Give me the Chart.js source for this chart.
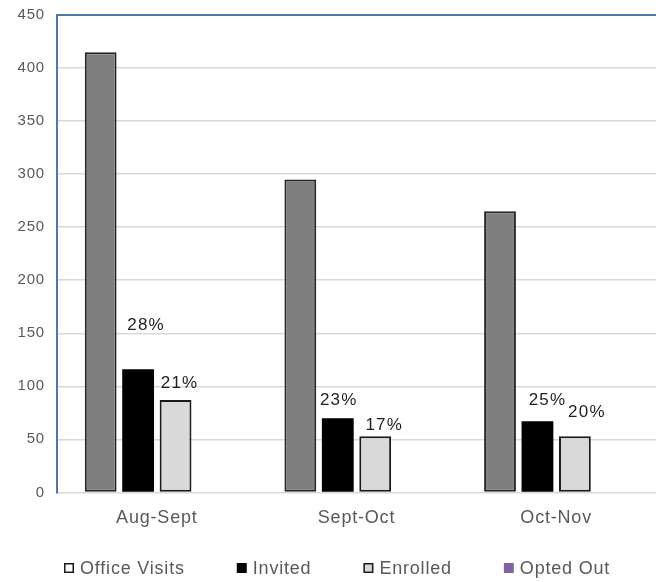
<!DOCTYPE html>
<html>
<head>
<meta charset="utf-8">
<script src="https://cdn.jsdelivr.net/npm/chart.js@4/dist/chart.umd.min.js"></script>
<style>
  html, body { margin: 0; padding: 0; background: #ffffff; overflow: hidden; }
  #wrap { width: 656px; height: 582px; }
</style>
</head>
<body>
<div id="wrap"><canvas id="c" width="656" height="582"></canvas></div>
<script>
// Monthly enrolment funnel
const categories = ['Aug-Sept', 'Sept-Oct', 'Oct-Nov'];
const officeVisits = [415, 295, 265];
const invited = [116, 70, 67];
const enrolled = [87, 53, 53];
const optedOut = [null, null, null];
const invitedPct = ['28%', '23%', '25%'];
const enrolledPct = ['21%', '17%', '20%'];
const yMin = 0, yMax = 450, yStep = 50;

// Where each percentage sits relative to the top centre of its bar (px)
const invitedLabelShift = [[8, 44], [1, 18], [10, 21]];
const enrolledLabelShift = [[4, 17], [9, 11], [12, 24]];

const FONT = '"Liberation Sans", Arial, Helvetica, sans-serif';
const TEXT_GREY = '#595959';
const FRAME_BLUE = '#4f77aa';

Chart.defaults.font.family = FONT;
Chart.defaults.color = TEXT_GREY;

function spacing(chart, px) {
  chart.ctx.letterSpacing = px + 'px';
}

// Slightly widened lettering for all chart text
const letterSpacingPlugin = {
  id: 'letterSpacing',
  beforeLayout(chart) { spacing(chart, 0.8); },
  beforeDraw(chart) { spacing(chart, 0.8); }
};

// Percentage labels above the Invited and Enrolled bars
const pctLabelsPlugin = {
  id: 'pctLabels',
  afterDatasetsDraw(chart) {
    const ctx = chart.ctx;
    ctx.save();
    ctx.letterSpacing = '1.2px';
    ctx.font = '17px ' + FONT;
    ctx.fillStyle = '#1f1f1f';
    ctx.textAlign = 'center';
    ctx.textBaseline = 'middle';
    const sets = [[1, invitedPct, invitedLabelShift], [2, enrolledPct, enrolledLabelShift]];
    sets.forEach(([dsIndex, texts, shifts]) => {
      chart.getDatasetMeta(dsIndex).data.forEach((bar, i) => {
        ctx.fillText(texts[i], bar.x + shifts[i][0], bar.y - shifts[i][1]);
      });
    });
    ctx.restore();
  }
};

// Legend row along the bottom edge
const legendRowPlugin = {
  id: 'legendRow',
  afterDraw(chart) {
    const ctx = chart.ctx;
    ctx.save();
    ctx.letterSpacing = '0.8px';
    ctx.font = '18px ' + FONT;
    ctx.textBaseline = 'middle';
    ctx.textAlign = 'left';
    const cy = 568;
    const box = 10, gap = 6, itemGap = 52;
    let x = 64;
    chart.data.datasets.forEach(ds => {
      ctx.fillStyle = ds.legendFill;
      ctx.fillRect(x, cy - box / 2, box, box);
      if (ds.legendStroke) {
        ctx.strokeStyle = ds.legendStroke;
        ctx.lineWidth = 1.5;
        ctx.strokeRect(x + 0.75, cy - box / 2 + 0.75, box - 1.5, box - 1.5);
      }
      ctx.fillStyle = TEXT_GREY;
      const tx = x + box + gap;
      ctx.fillText(ds.label, tx, cy + 1);
      x = tx + ctx.measureText(ds.label).width + itemGap;
    });
    ctx.restore();
  }
};

const chart = new Chart(document.getElementById('c'), {
  type: 'bar',
  data: {
    labels: categories,
    datasets: [
      { label: 'Office Visits', data: officeVisits, backgroundColor: '#7f7f7f',
        borderColor: '#262626', borderWidth: 2, borderSkipped: false,
        legendFill: '#ffffff', legendStroke: '#1a1a1a' },
      { label: 'Invited', data: invited, backgroundColor: '#000000',
        borderColor: '#000000', borderWidth: 0,
        legendFill: '#000000', legendStroke: null },
      { label: 'Enrolled', data: enrolled, backgroundColor: '#d9d9d9',
        borderColor: '#1a1a1a', borderWidth: 2, borderSkipped: false,
        legendFill: '#d9d9d9', legendStroke: '#1a1a1a' },
      { label: 'Opted Out', data: optedOut, backgroundColor: '#8064a2',
        legendFill: '#8064a2', legendStroke: null }
    ]
  },
  options: {
    responsive: false,
    devicePixelRatio: 1,
    animation: false,
    layout: { padding: { top: 15, left: 0, right: 0, bottom: 38 } },
    datasets: { bar: { categoryPercentage: 0.75, barPercentage: 0.85 } },
    plugins: {
      legend: { display: false },
      tooltip: { enabled: false }
    },
    scales: {
      x: {
        grid: { display: false, drawTicks: false },
        border: { display: false },
        ticks: { font: { size: 18 }, color: TEXT_GREY, padding: 15 }
      },
      y: {
        min: yMin,
        max: yMax,
        afterFit(scale) {
          scale.width = 57;
          scale.paddingTop = 0;
          scale.paddingBottom = 0;
        },
        ticks: { stepSize: yStep, font: { size: 15 }, color: TEXT_GREY, padding: 12 },
        grid: {
          drawTicks: false,
          color: c => (c.tick && c.tick.value === yMax) ? FRAME_BLUE : '#d9d9d9',
          lineWidth: c => (c.tick && c.tick.value === yMax) ? 2 : 1.5
        },
        border: { display: true, color: FRAME_BLUE, width: 2 }
      }
    }
  },
  plugins: [letterSpacingPlugin, pctLabelsPlugin, legendRowPlugin]
});
</script>
</body>
</html>
